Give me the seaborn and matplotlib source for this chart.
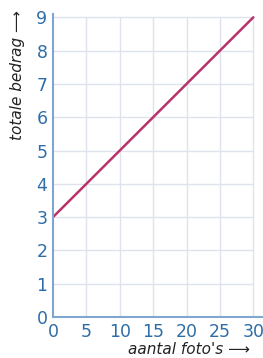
import numpy as np
import pandas as pd
import matplotlib
matplotlib.use("Agg")
import matplotlib.pyplot as plt
import seaborn as sns

# data
aantal = [0, 30]
bedrag = [3, 9]
xticks = [0, 5, 10, 15, 20, 25, 30]
yticks = [0, 1, 2, 3, 4, 5, 6, 7, 8, 9]

df = pd.DataFrame({"aantal": aantal, "bedrag": bedrag})

sns.set_style("white")
plt.rcParams["font.family"] = ["DejaVu Sans"]

blue = "#2f6da6"
spine = "#7fa6cf"
gridc = "#dfe4ec"

fig = plt.figure(figsize=(2.63, 3.58), dpi=100)
ax = fig.add_axes([53 / 263, 41 / 358, 209 / 263, 303 / 358])

ax.hlines(yticks[1:], 0, 30, color=gridc, lw=1, zorder=0)
ax.vlines(xticks[1:], 0, 9, color=gridc, lw=1, zorder=0)

sns.lineplot(data=df, x="aantal", y="bedrag", color="#b8336a", lw=1.8, ax=ax)

ax.set_xlim(0, 31.3)
ax.set_ylim(0, 9.1)
ax.set_xticks(xticks)
ax.set_yticks(yticks)
ax.tick_params(length=0, labelsize=12.5, colors=blue, pad=4)
for s in ["top", "right"]:
    ax.spines[s].set_visible(False)
for s in ["left", "bottom"]:
    ax.spines[s].set_color(spine)
    ax.spines[s].set_linewidth(1.5)

ax.set_xlabel("")
ax.set_ylabel("")
fig.text(250 / 263, 8 / 358, "aantal foto's \u27f6", ha="right", va="center",
         fontsize=11, style="italic", color="#222222")
fig.text(18 / 263, 348 / 358, "totale bedrag \u27f6", ha="center", va="top",
         rotation=90, fontsize=11, style="italic", color="#222222")

fig.savefig("out.png", dpi=100)
